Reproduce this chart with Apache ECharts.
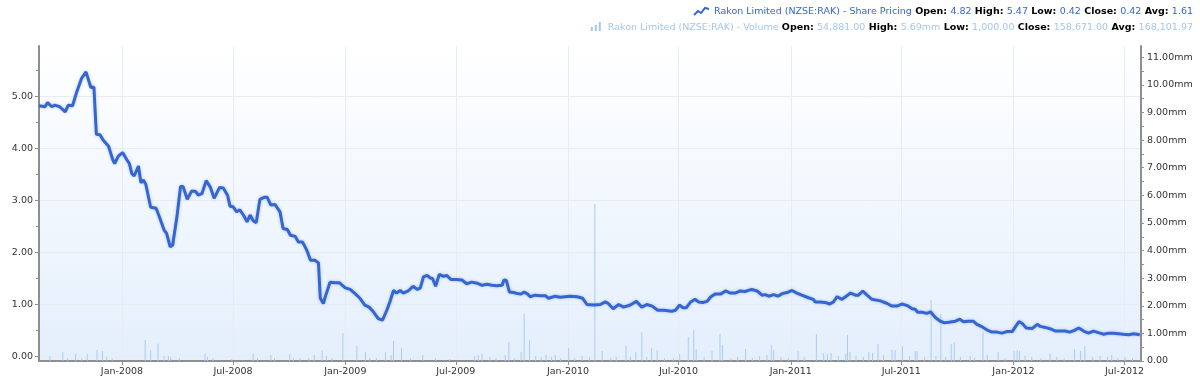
<!DOCTYPE html>
<html><head><meta charset="utf-8">
<script src="https://cdn.jsdelivr.net/npm/echarts@6/dist/echarts.min.js"></script>
<style>html,body{margin:0;padding:0;background:#fff}#c{width:1200px;height:377px}</style>
</head><body><div id="c"></div>
<script>
const priceName = 'Rakon Limited (NZSE:RAK) - Share Pricing';
const volumeName = 'Rakon Limited (NZSE:RAK) - Volume';
const priceStats = [['Open', '4.82'], ['High', '5.47'], ['Low', '0.42'], ['Close', '0.42'], ['Avg', '1.61']];
const volumeStats = [['Open', '54,881.00'], ['High', '5.69mm'], ['Low', '1,000.00'], ['Close', '158,671.00'], ['Avg', '168,101.97']];

const xMin = '2007-08-18';
const xMax = '2012-07-28';
const xTicks = ['2008-01-01','2008-07-01','2009-01-01','2009-07-01','2010-01-01','2010-07-01','2011-01-01','2011-07-01','2012-01-01','2012-07-01'];
const monthNames = ['Jan','Feb','Mar','Apr','May','Jun','Jul','Aug','Sep','Oct','Nov','Dec'];
const priceTicks = [0, 1, 2, 3, 4, 5];
const priceMinorTicks = [0.5, 1.5, 2.5, 3.5, 4.5, 5.5];
const volumeTicks = [0, 0.5e6, 1e6, 1.5e6, 2e6, 2.5e6, 3e6, 3.5e6, 4e6, 4.5e6, 5e6, 5.5e6, 6e6, 6.5e6, 7e6, 7.5e6, 8e6, 8.5e6, 9e6, 9.5e6, 10e6, 10.5e6, 11e6];
const volumeLabels = [0, 1e6, 2e6, 3e6, 4e6, 5e6, 6e6, 7e6, 8e6, 9e6, 10e6, 11e6];

const pricePoints = [
['2007-08-18',4.82],['2007-08-28',4.80],['2007-09-01',4.88],['2007-09-08',4.80],['2007-09-13',4.83],['2007-09-21',4.80],['2007-09-30',4.70],['2007-10-05',4.83],['2007-10-12',4.82],['2007-10-19',5.09],['2007-10-27',5.35],['2007-11-03',5.47],['2007-11-11',5.17],['2007-11-16',5.18],['2007-11-20',4.27],['2007-11-26',4.26],['2007-12-01',4.16],['2007-12-10',4.04],['2007-12-17',3.78],['2007-12-20',3.71],['2007-12-26',3.85],
['2008-01-02',3.92],['2008-01-09',3.78],['2008-01-13',3.71],['2008-01-17',3.52],['2008-01-21',3.47],['2008-01-25',3.58],['2008-01-28',3.66],['2008-02-01',3.34],['2008-02-05',3.39],['2008-02-09',3.31],['2008-02-17',2.87],['2008-02-26',2.85],['2008-03-04',2.63],['2008-03-10',2.43],['2008-03-14',2.37],['2008-03-20',2.11],['2008-03-24',2.14],['2008-03-31',2.68],['2008-04-06',3.27],['2008-04-10',3.27],['2008-04-17',3.02],['2008-04-24',3.18],['2008-05-01',3.17],['2008-05-05',3.10],['2008-05-11',3.13],['2008-05-18',3.38],['2008-05-25',3.25],['2008-05-31',3.04],['2008-06-09',3.25],['2008-06-15',3.24],['2008-06-22',3.10],['2008-06-26',2.89],['2008-07-01',2.88],['2008-07-07',2.78],['2008-07-12',2.82],['2008-07-18',2.72],['2008-07-24',2.59],['2008-07-29',2.72],['2008-08-03',2.61],['2008-08-08',2.57],['2008-08-14',3.02],['2008-08-21',3.06],['2008-08-26',3.06],['2008-09-01',2.91],['2008-09-08',2.92],['2008-09-16',2.78],['2008-09-21',2.46],['2008-09-28',2.44],['2008-10-03',2.33],['2008-10-11',2.31],['2008-10-16',2.20],['2008-10-23',2.20],['2008-10-30',2.04],['2008-11-05',1.85],['2008-11-12',1.85],['2008-11-18',1.80],['2008-11-21',1.12],['2008-11-26',1.02],['2008-11-30',1.18],['2008-12-07',1.43],['2008-12-15',1.42],['2008-12-22',1.42],
['2009-01-01',1.32],['2009-01-09',1.29],['2009-01-17',1.21],['2009-01-25',1.12],['2009-02-02',0.99],['2009-02-09',0.95],['2009-02-16',0.86],['2009-02-24',0.73],['2009-03-03',0.70],['2009-03-10',0.89],['2009-03-15',1.05],['2009-03-21',1.27],['2009-03-26',1.22],['2009-04-01',1.27],['2009-04-06',1.22],['2009-04-14',1.26],['2009-04-22',1.35],['2009-04-29',1.29],['2009-05-04',1.32],['2009-05-09',1.53],['2009-05-15',1.56],['2009-05-20',1.51],['2009-05-24',1.50],['2009-05-29',1.35],['2009-06-04',1.58],['2009-06-11',1.54],['2009-06-16',1.56],['2009-06-23',1.48],['2009-07-02',1.48],['2009-07-11',1.47],['2009-07-19',1.40],['2009-07-27',1.43],['2009-08-05',1.41],['2009-08-13',1.37],['2009-08-21',1.39],['2009-08-29',1.37],['2009-09-06',1.36],['2009-09-15',1.37],['2009-09-18',1.47],['2009-09-22',1.46],['2009-09-27',1.24],['2009-10-04',1.23],['2009-10-10',1.21],['2009-10-16',1.20],['2009-10-21',1.24],['2009-10-27',1.20],['2009-10-31',1.15],['2009-11-08',1.18],['2009-11-16',1.17],['2009-11-25',1.17],['2009-11-30',1.12],['2009-12-11',1.16],['2009-12-19',1.14],['2009-12-27',1.15],
['2010-01-05',1.16],['2010-01-16',1.15],['2010-01-25',1.12],['2010-02-01',1.00],['2010-02-12',0.99],['2010-02-23',1.00],['2010-03-03',1.05],['2010-03-08',1.02],['2010-03-16',0.92],['2010-03-25',1.00],['2010-04-02',0.95],['2010-04-13',0.99],['2010-04-23',1.06],['2010-05-02',0.95],['2010-05-10',1.00],['2010-05-19',0.97],['2010-05-28',0.89],['2010-06-07',0.89],['2010-06-20',0.87],['2010-06-26',0.89],['2010-07-03',0.99],['2010-07-08',0.94],['2010-07-14',0.94],['2010-07-21',1.05],['2010-07-28',1.10],['2010-08-03',1.05],['2010-08-10',1.04],['2010-08-17',1.06],['2010-08-23',1.15],['2010-08-30',1.20],['2010-09-08',1.20],['2010-09-16',1.26],['2010-09-24',1.22],['2010-10-02',1.22],['2010-10-10',1.26],['2010-10-18',1.25],['2010-10-29',1.29],['2010-11-07',1.26],['2010-11-15',1.18],['2010-11-20',1.19],['2010-11-26',1.16],['2010-12-04',1.19],['2010-12-11',1.16],['2010-12-18',1.21],['2010-12-26',1.23],
['2011-01-03',1.27],['2011-01-11',1.22],['2011-01-19',1.18],['2011-01-30',1.13],['2011-02-07',1.10],['2011-02-10',1.05],['2011-02-18',1.05],['2011-02-26',1.04],['2011-03-06',1.01],['2011-03-12',1.05],['2011-03-18',1.15],['2011-03-26',1.10],['2011-04-02',1.16],['2011-04-09',1.22],['2011-04-17',1.18],['2011-04-22',1.18],['2011-04-29',1.26],['2011-05-06',1.18],['2011-05-14',1.10],['2011-05-28',1.07],['2011-06-08',1.02],['2011-06-16',0.97],['2011-06-24',0.97],['2011-07-02',1.01],['2011-07-11',0.98],['2011-07-19',0.92],['2011-07-24',0.91],['2011-07-28',0.85],['2011-08-04',0.85],['2011-08-12',0.83],['2011-08-18',0.86],['2011-08-26',0.75],['2011-09-03',0.68],['2011-09-09',0.65],['2011-09-17',0.66],['2011-09-28',0.68],['2011-10-05',0.72],['2011-10-11',0.67],['2011-10-19',0.68],['2011-10-27',0.68],['2011-11-02',0.62],['2011-11-11',0.57],['2011-11-19',0.51],['2011-11-27',0.47],['2011-12-05',0.47],['2011-12-13',0.45],['2011-12-21',0.48],['2011-12-30',0.48],
['2012-01-04',0.57],['2012-01-10',0.67],['2012-01-15',0.64],['2012-01-22',0.55],['2012-02-01',0.54],['2012-02-09',0.62],['2012-02-14',0.58],['2012-02-22',0.56],['2012-03-02',0.53],['2012-03-10',0.49],['2012-03-18',0.49],['2012-03-26',0.49],['2012-04-02',0.47],['2012-04-09',0.50],['2012-04-17',0.55],['2012-04-25',0.49],['2012-05-03',0.45],['2012-05-11',0.49],['2012-05-19',0.46],['2012-05-28',0.43],['2012-06-05',0.45],['2012-06-13',0.45],['2012-06-21',0.44],['2012-06-29',0.43],['2012-07-08',0.42],['2012-07-16',0.44],['2012-07-26',0.42]
];

const volumePoints = [
['2007-09-05',181000],['2007-09-26',326000],['2007-10-04',109000],['2007-10-17',254000],['2007-10-27',109000],['2007-11-05',254000],['2007-11-21',399000],['2007-11-30',362000],['2007-12-07',145000],['2007-12-16',109000],
['2008-02-08',761000],['2008-02-17',399000],['2008-02-29',634000],['2008-03-10',181000],['2008-03-17',181000],['2008-03-21',145000],['2008-04-04',109000],['2008-05-16',254000],['2008-05-20',145000],['2008-05-29',109000],['2008-06-29',72000],['2008-08-03',254000],['2008-08-10',109000],['2008-09-01',217000],['2008-09-07',109000],['2008-10-02',254000],['2008-10-08',109000],['2008-10-19',109000],['2008-11-02',109000],['2008-11-11',217000],['2008-11-24',399000],['2008-12-01',181000],['2008-12-10',109000],['2008-12-28',1014000],
['2009-01-20',543000],['2009-02-03',326000],['2009-02-10',109000],['2009-02-21',109000],['2009-03-08',326000],['2009-03-17',217000],['2009-03-21',725000],['2009-04-03',471000],['2009-04-18',109000],['2009-05-08',217000],['2009-05-29',109000],['2009-06-21',72000],['2009-08-01',181000],['2009-08-07',217000],['2009-08-13',254000],['2009-08-26',145000],['2009-09-05',109000],['2009-09-20',217000],['2009-09-26',688000],['2009-10-05',109000],['2009-10-16',326000],['2009-10-21',1703000],['2009-10-30',761000],['2009-11-09',181000],['2009-11-18',145000],['2009-11-26',217000],['2009-12-05',145000],['2009-12-11',217000],['2009-12-20',109000],
['2010-01-02',471000],['2010-01-12',109000],['2010-01-24',181000],['2010-02-05',145000],['2010-02-14',5690000],['2010-02-26',362000],['2010-03-12',109000],['2010-03-21',145000],['2010-04-06',543000],['2010-04-13',145000],['2010-04-22',326000],['2010-05-02',1051000],['2010-05-10',145000],['2010-05-18',471000],['2010-05-27',399000],['2010-06-08',109000],['2010-06-23',109000],['2010-07-03',254000],['2010-07-17',870000],['2010-07-26',1123000],['2010-07-30',435000],['2010-08-12',145000],['2010-08-25',362000],['2010-09-07',978000],['2010-09-11',580000],['2010-09-25',109000],['2010-10-06',145000],['2010-10-19',435000],['2010-10-30',109000],['2010-11-11',181000],['2010-11-23',217000],['2010-11-30',580000],['2010-12-04',399000],['2010-12-16',145000],['2010-12-28',109000],
['2011-01-13',362000],['2011-01-23',145000],['2011-02-12',978000],['2011-02-24',290000],['2011-03-02',254000],['2011-03-08',290000],['2011-03-20',181000],['2011-04-01',254000],['2011-04-04',942000],['2011-04-08',326000],['2011-04-18',181000],['2011-04-30',145000],['2011-05-09',326000],['2011-05-15',290000],['2011-05-24',616000],['2011-06-02',217000],['2011-06-16',399000],['2011-06-21',399000],['2011-07-03',543000],['2011-07-15',181000],['2011-07-24',362000],['2011-07-27',362000],['2011-08-08',145000],['2011-08-19',2210000],['2011-08-27',181000],['2011-09-04',1703000],['2011-09-12',145000],['2011-09-21',616000],['2011-09-26',688000],['2011-10-06',145000],['2011-10-22',181000],['2011-10-29',109000],['2011-11-12',1051000],['2011-11-19',217000],['2011-12-07',326000],['2011-12-18',109000],
['2012-01-02',362000],['2012-01-07',399000],['2012-01-11',362000],['2012-01-20',181000],['2012-01-31',145000],['2012-02-15',109000],['2012-03-01',254000],['2012-03-12',145000],['2012-03-24',109000],['2012-04-10',435000],['2012-04-20',362000],['2012-04-27',543000],['2012-05-10',145000],['2012-05-22',181000],['2012-06-03',145000],['2012-06-10',217000],['2012-06-20',109000],['2012-07-02',145000],['2012-07-14',109000]
];

function toTs(s) { const p = s.split('-'); return new Date(+p[0], +p[1] - 1, +p[2]).getTime(); }

const chart = echarts.init(document.getElementById('c'));
const FONT = 'DejaVu Sans';
const axisGray = '#8f8f8f';
const gridLineColor = '#e7ecf2';
const priceColor = '#3566d0';
const volumeColor = '#a9ccf4';
const volumeTextColor = '#a3c6f0';

function legendText(name, stats) {
  let s = '{n|' + name + '}';
  stats.forEach(function (p) { s += ' {k|' + p[0] + ':} {v|' + p[1] + '}'; });
  return s;
}
function richFor(color) {
  return {
    n: { fontFamily: FONT, fontSize: 9.5, fill: color, color: color },
    k: { fontFamily: FONT, fontSize: 9.5, fontWeight: 'bold', fill: '#000', color: '#000' },
    v: { fontFamily: FONT, fontSize: 9.5, fill: color, color: color }
  };
}

const xTickTs = xTicks.map(toTs);

const option = {
  animation: false,
  backgroundColor: '#ffffff',
  grid: {
    left: 39, right: 59, top: 46, bottom: 16,
    show: true, borderWidth: 0,
    backgroundColor: { type: 'linear', x: 0, y: 0, x2: 0, y2: 1,
      colorStops: [{ offset: 0, color: '#ffffff' }, { offset: 1, color: '#e4effc' }] }
  },
  xAxis: {
    type: 'value', min: toTs(xMin), max: toTs(xMax),
    axisLine: { show: true, onZero: false, lineStyle: { color: axisGray, width: 2 } },
    axisTick: { show: true, length: 4, customValues: xTickTs, lineStyle: { color: axisGray } },
    splitLine: { show: true, lineStyle: { color: gridLineColor, width: 1 } },
    axisLabel: {
      customValues: xTickTs, margin: 6, color: '#333', fontFamily: FONT, fontSize: 9.5,
      formatter: function (v) { const d = new Date(v); return monthNames[d.getMonth()] + '-' + d.getFullYear(); }
    }
  },
  yAxis: [
    {
      type: 'value', position: 'left', min: -0.085, max: 5.967,
      axisLine: { show: true, lineStyle: { color: axisGray, width: 2 } },
      axisTick: { show: true, length: 4, customValues: priceTicks, lineStyle: { color: axisGray } },
      splitLine: { show: true, lineStyle: { color: gridLineColor, width: 1 } },
      axisLabel: { customValues: priceTicks, margin: 6, color: '#333', fontFamily: FONT, fontSize: 9.5,
        formatter: function (v) { return (+v).toFixed(2); } }
    },
    {
      type: 'value', position: 'left', min: -0.085, max: 5.967,
      axisLine: { show: false },
      axisTick: { show: true, length: 3, customValues: priceMinorTicks, lineStyle: { color: axisGray } },
      splitLine: { show: false },
      axisLabel: { show: false }
    },
    {
      type: 'value', position: 'right', min: 0, max: 11.41e6,
      axisLine: { show: true, lineStyle: { color: axisGray, width: 2 } },
      axisTick: { show: true, length: 3, customValues: volumeTicks, lineStyle: { color: axisGray } },
      splitLine: { show: false },
      axisLabel: { customValues: volumeLabels, margin: 6, color: '#333', fontFamily: FONT, fontSize: 9.5,
        formatter: function (v) { return +v === 0 ? '0.00' : (v / 1e6).toFixed(2) + 'mm'; } }
    }
  ],
  series: [
    {
      name: volumeName, type: 'bar', xAxisIndex: 0, yAxisIndex: 2, z: 1,
      barWidth: 1, itemStyle: { color: volumeColor },
      data: volumePoints.map(function (p) { return [toTs(p[0]), p[1]]; })
    },
    {
      name: priceName, type: 'line', xAxisIndex: 0, yAxisIndex: 0, z: 3,
      showSymbol: false, symbol: 'none', smooth: false,
      lineStyle: { color: priceColor, width: 3, shadowColor: 'rgba(53,102,208,0.35)', shadowBlur: 3 },
      data: pricePoints.map(function (p) { return [toTs(p[0]), p[1]]; })
    }
  ],
  graphic: [
    { type: 'text', id: 'lg1', style: { x: 1193, y: 12, align: 'right', verticalAlign: 'middle',
        text: legendText(priceName, priceStats), rich: richFor(priceColor) } },
    { type: 'text', id: 'lg2', style: { x: 1193, y: 28, align: 'right', verticalAlign: 'middle',
        text: legendText(volumeName, volumeStats), rich: richFor(volumeTextColor) } }
  ]
};
chart.setOption(option);

// legend icons placed just left of each legend line
try {
  const measure = new echarts.graphic.Text({ style: { text: legendText(priceName, priceStats), rich: richFor(priceColor) } });
  const w1 = measure.getBoundingRect().width;
  const measure2 = new echarts.graphic.Text({ style: { text: legendText(volumeName, volumeStats), rich: richFor(volumeTextColor) } });
  const w2 = measure2.getBoundingRect().width;
  const a = 1193 - w1 - 20;
  const b = 1193 - w2 - 17;
  chart.setOption({ graphic: [
    { type: 'polyline', id: 'ic1', shape: { points: [[a, 15], [a + 4, 11], [a + 7, 13], [a + 11, 8], [a + 15, 9]] },
      style: { stroke: priceColor, lineWidth: 2, fill: null } },
    { type: 'rect', id: 'ic2a', shape: { x: b, y: 27, width: 2, height: 4 }, style: { fill: volumeTextColor } },
    { type: 'rect', id: 'ic2b', shape: { x: b + 4, y: 25, width: 2, height: 6 }, style: { fill: volumeTextColor } },
    { type: 'rect', id: 'ic2c', shape: { x: b + 8, y: 22, width: 2, height: 9 }, style: { fill: volumeTextColor } }
  ] });
} catch (e) { }
</script></body></html>
